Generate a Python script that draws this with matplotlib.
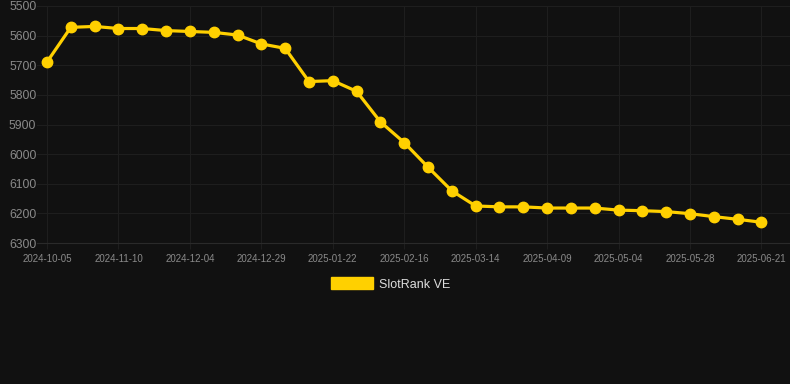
import numpy as np
import matplotlib
matplotlib.use("Agg")
from matplotlib import pyplot as plt
from matplotlib.patches import Patch

plt.rcParams['font.family'] = ['Liberation Sans', 'DejaVu Sans']

# rank values, one point per snapshot (every third one is labelled)
ranks = [5689, 5572, 5569, 5576, 5576, 5583, 5586, 5589, 5598, 5628,
         5643, 5755, 5752, 5788, 5891, 5961, 6044, 6124, 6175, 6178,
         6178, 6182, 6182, 6182, 6189, 6191, 6194, 6201, 6211, 6220,
         6230]
tick_labels = ["2024-10-05", "2024-11-10", "2024-12-04", "2024-12-29",
               "2025-01-22", "2025-02-16", "2025-03-14", "2025-04-09",
               "2025-05-04", "2025-05-28", "2025-06-21"]
y_ticks = [5500, 5600, 5700, 5800, 5900, 6000, 6100, 6200, 6300]

bg = "#111111"
gold = "#FFD000"

fig = plt.figure(figsize=(7.9, 3.84), dpi=100, facecolor=bg)
ax = fig.add_axes([37/790, 1 - 243/384, 753/790, 237/384])
ax.set_facecolor(bg)

x = np.arange(len(ranks))
ax.plot(x, ranks, color=gold, lw=2.3, marker="o", ms=7.5, zorder=3)

ax.set_ylim(6300, 5500)
ax.set_xlim(-0.42, 31.2)
ax.set_yticks(y_ticks)
ax.set_xticks(x[::3])
ax.set_xticklabels(tick_labels)

ax.grid(True, color="#1e1e1e", lw=0.8)
for s in ["top", "right", "left"]:
    ax.spines[s].set_visible(False)
ax.spines["bottom"].set_color("#2a2a2a")
ax.tick_params(axis="y", length=0, pad=0.5, labelsize=8.7, labelcolor="#8a8a8a")
ax.tick_params(axis="x", length=4, color="#1e1e1e", pad=4, labelsize=7,
               labelcolor="#8a8a8a")

leg = fig.legend(handles=[Patch(color=gold, label="SlotRank VE")],
                 loc="center", bbox_to_anchor=(391/790, 1 - 284/384),
                 frameon=False, handlelength=3.3, handleheight=1.1,
                 fontsize=9, labelcolor="#dddddd", handletextpad=0.55)

fig.savefig("out.png", dpi=100, facecolor=bg)
